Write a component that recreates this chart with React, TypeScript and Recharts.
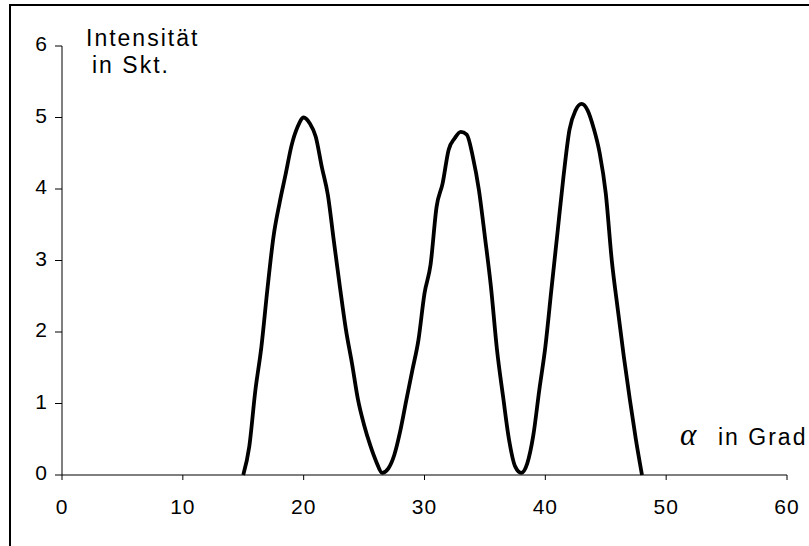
import React from 'react';
import { LineChart, Line, XAxis, YAxis, Label } from 'recharts';

// angle in degrees
const angles = [
  15, 15.5, 16, 16.5, 17, 17.5, 18, 18.5, 19, 19.5,
  20, 20.5, 21, 21.5, 22, 22.5, 23, 23.5, 24, 24.5,
  25, 25.5, 26, 26.5, 27, 27.5, 28, 28.5, 29, 29.5,
  30, 30.5, 31, 31.5, 32, 32.5, 33, 33.5, 34, 34.5,
  35, 35.5, 36, 36.5, 37, 37.5, 38, 38.5, 39, 39.5,
  40, 40.5, 41, 41.5, 42, 42.5, 43, 43.5, 44, 44.5,
  45, 45.5, 46, 46.5, 47, 47.5, 48,
];

// intensity
const intensity = [
  0, 0.4, 1.18, 1.79, 2.6, 3.33, 3.8, 4.2, 4.61, 4.87,
  5.0, 4.92, 4.73, 4.31, 3.92, 3.27, 2.63, 2.03, 1.56, 1.05,
  0.7, 0.42, 0.19, 0.03, 0.09, 0.28, 0.62, 1.05, 1.47, 1.89,
  2.54, 2.94, 3.75, 4.08, 4.55, 4.71, 4.8, 4.76, 4.45, 3.99,
  3.33, 2.63, 1.75, 1.1, 0.49, 0.12, 0.03, 0.16, 0.55, 1.19,
  1.79, 2.59, 3.38, 4.17, 4.83, 5.1, 5.19, 5.1, 4.85, 4.5,
  3.94, 3.0, 2.31, 1.65, 1.05, 0.49, 0,
];

const xTicks = [0, 10, 20, 30, 40, 50, 60];
const yTicks = [0, 1, 2, 3, 4, 5, 6];

const data = angles.map((a, i) => ({ alpha: a, value: intensity[i] }));

const font = '"Liberation Sans", Arial, sans-serif';

function YTitle({ viewBox }: any) {
  const x = viewBox.x + viewBox.width + 24;
  const y = viewBox.y;
  return (
    <g>
      <text x={x} y={y} fontFamily={font} fontSize={23} letterSpacing={2} fill="#000">
        Intensität
      </text>
      <text x={x + 6} y={y + 27} fontFamily={font} fontSize={23} letterSpacing={2} fill="#000">
        in Skt.
      </text>
    </g>
  );
}

function XTitle({ viewBox }: any) {
  const right = viewBox.x + viewBox.width + 17;
  const y = viewBox.y - 30;
  return (
    <g>
      <text
        x={right - 124}
        y={y}
        fontFamily='"Liberation Serif", "Times New Roman", serif'
        fontStyle="italic"
        fontSize={31}
        fill="#000"
      >
        α
      </text>
      <text x={right - 86} y={y} fontFamily={font} fontSize={23} letterSpacing={2} fill="#000">
        in Grad
      </text>
    </g>
  );
}

export default function App() {
  return (
    <div
      style={{
        position: 'absolute',
        left: 0,
        top: 0,
        width: 809,
        height: 546,
        background: '#fff',
        overflow: 'hidden',
      }}
    >
      <div
        style={{
          position: 'absolute',
          left: 9,
          top: 4,
          width: 900,
          height: 700,
          borderTop: '2px solid #000',
          borderLeft: '2px solid #000',
        }}
      />
      <div style={{ position: 'absolute', left: 0, top: 0 }}>
        <LineChart
          width={809}
          height={546}
          data={data}
          margin={{ top: 46, right: 22, left: 0, bottom: 0 }}
        >
          <XAxis
            dataKey="alpha"
            type="number"
            domain={[0, 60]}
            ticks={xTicks}
            height={71}
            tickSize={5}
            tickMargin={19}
            stroke="#000"
            tick={{ fill: '#000', fontSize: 21, fontFamily: font, letterSpacing: 1 }}
          >
            <Label content={XTitle} />
          </XAxis>
          <YAxis
            type="number"
            domain={[0, 6]}
            ticks={yTicks}
            width={62}
            tickSize={7}
            tickMargin={8}
            stroke="#000"
            tick={{ fill: '#000', fontSize: 21, fontFamily: font, dy: -2 }}
          >
            <Label content={YTitle} />
          </YAxis>
          <Line
            dataKey="value"
            type="monotone"
            stroke="#000"
            strokeWidth={3.8}
            dot={false}
            isAnimationActive={false}
          />
        </LineChart>
      </div>
    </div>
  );
}
